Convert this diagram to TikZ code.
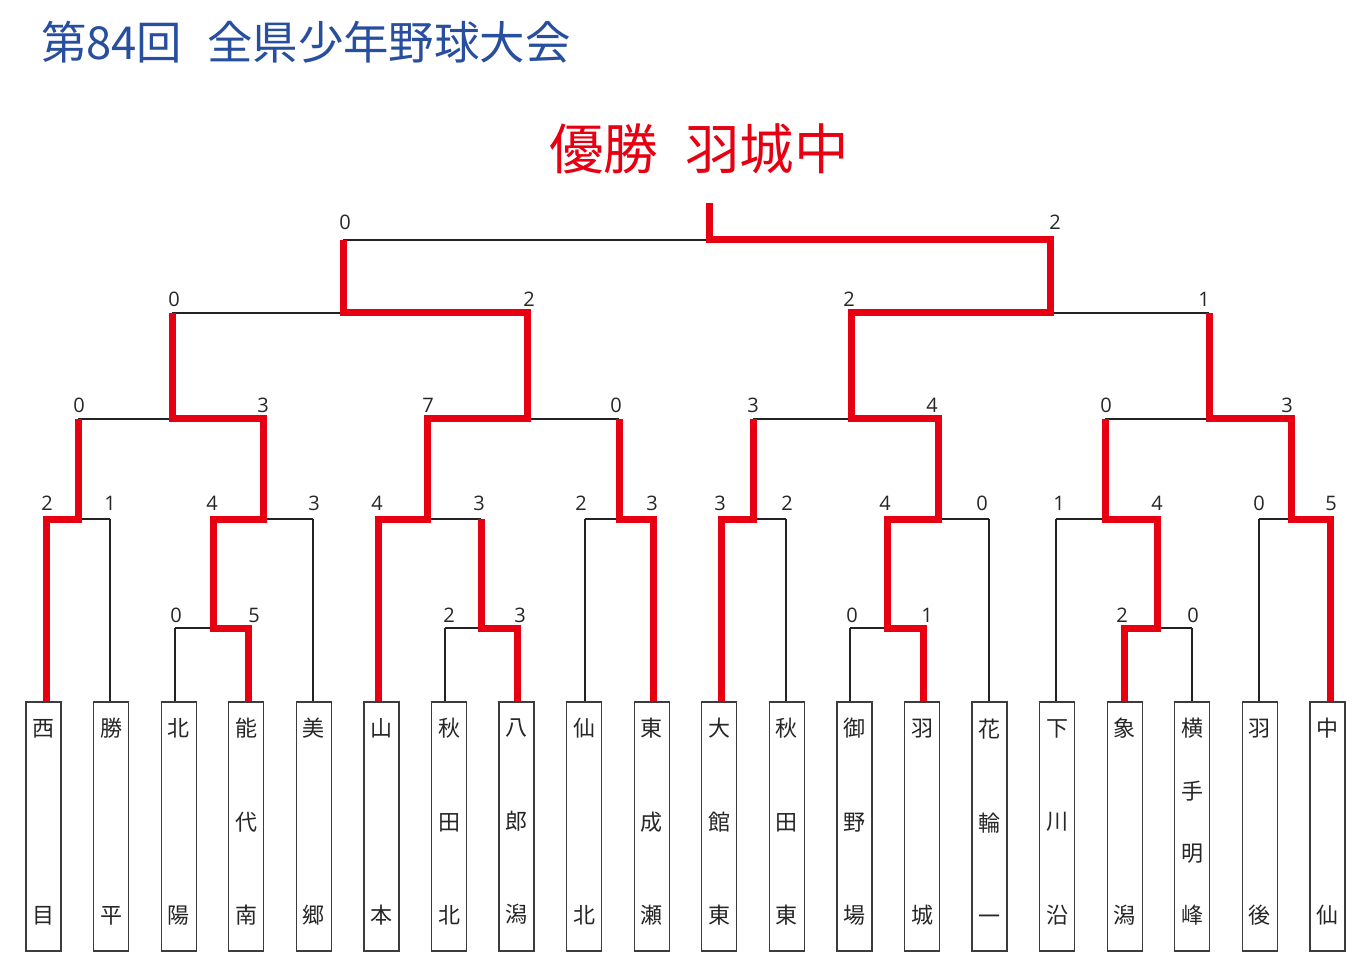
\documentclass[tikz,border=0pt]{standalone}
\usepackage{fontspec}
\newfontfamily\cjk{Noto Sans CJK JP}
\newfontfamily\numfont{Open Sans}
\definecolor{winred}{RGB}{230,0,18}
\definecolor{titleblue}{RGB}{40,78,158}
\definecolor{linegray}{RGB}{35,35,35}
\definecolor{boxgray}{RGB}{60,60,60}
\begin{document}
\begin{tikzpicture}[x=1pt,y=-1pt,
  thinline/.style={draw=linegray, line width=1.2pt},
  redline/.style={draw=winred, line width=7pt, line join=miter},
  teambox/.style={draw=boxgray, fill=white, line width=1.3pt, minimum width=35pt, minimum height=249pt, inner sep=0pt},
  namebase/.style={inner sep=0pt, align=center, text=black!85},
  nametwo/.style={namebase, font=\cjk\fontsize{22}{187}\selectfont},
  namethree/.style={namebase, font=\cjk\fontsize{22}{93.5}\selectfont},
  namefour/.style={namebase, font=\cjk\fontsize{22}{62.3}\selectfont},
  score/.style={font=\numfont\fontsize{20}{24}\selectfont, text=black!85, inner sep=0pt},
  ]
\useasboundingbox (0,0) rectangle (1366,965);
\fill[white] (0,0) rectangle (1366,965);

% titles
\node[anchor=west, inner sep=0pt, text=titleblue, font=\cjk\fontsize{45.4}{54}\selectfont] (title) at (41,42) {第84回\hspace{0.55em}全県少年野球大会};
\node[anchor=west, inner sep=0pt, text=winred, font=\cjk\fontsize{54.5}{60}\selectfont] (champ) at (549,148.5) {優勝\hspace{0.5em}羽城中};

% team attach points
\coordinate (t0) at (46,702);   \coordinate (t1) at (110,702);
\coordinate (t2) at (175,702);  \coordinate (t3) at (248,702);
\coordinate (t4) at (313,702);  \coordinate (t5) at (378,702);
\coordinate (t6) at (445,702);  \coordinate (t7) at (517,702);
\coordinate (t8) at (585,702);  \coordinate (t9) at (653,702);
\coordinate (t10) at (721,702); \coordinate (t11) at (786,702);
\coordinate (t12) at (850,702); \coordinate (t13) at (923,702);
\coordinate (t14) at (989,702); \coordinate (t15) at (1056,702);
\coordinate (t16) at (1124,702); \coordinate (t17) at (1192,702);
\coordinate (t18) at (1259,702); \coordinate (t19) at (1330,702);

% match points: left, right, middle (up)
\foreach \m/\l/\r/\u/\y in {a1/175/248/213/628, a2/445/517/481/628, a3/850/923/887/628, a4/1124/1192/1157/628,
  b1/46/110/78/519, b2/213/313/263/519, b3/378/481/427/519, b4/585/653/619/519,
  b5/721/786/753/519, b6/887/989/938/519, b7/1056/1157/1105/519, b8/1259/1330/1291/519,
  c1/78/263/172/419, c2/427/619/527/419, c3/753/938/851/419, c4/1105/1291/1209/419,
  d1/172/527/343/313, d2/851/1209/1050/313, f/343/1050/709/240}{
  \coordinate (\m l) at (\l,\y);
  \coordinate (\m r) at (\r,\y);
  \coordinate (\m m) at (\u,\y);
}
\coordinate (top) at (709,203);

% thin lines
\foreach \m in {a1,a2,a3,a4,b1,b2,b3,b4,b5,b6,b7,b8,c1,c2,c3,c4,d1,d2,f}{
  \draw[thinline] (\m l) -- (\m r);
}
\draw[thinline] (t1) -- (b1r);
\draw[thinline] (t2) -- (a1l);
\draw[thinline] (t4) -- (b2r);
\draw[thinline] (t6) -- (a2l);
\draw[thinline] (t8) -- (b4l);
\draw[thinline] (t11) -- (b5r);
\draw[thinline] (t12) -- (a3l);
\draw[thinline] (t14) -- (b6r);
\draw[thinline] (t15) -- (b7l);
\draw[thinline] (t17) -- (a4r);
\draw[thinline] (t18) -- (b8l);

% winning paths
\draw[redline] (t0) -- (b1l) -- (b1m) -- (c1l);
\draw[redline] (t3) -- (a1r) -- (a1m) -- (b2l) -- (b2m) -- (c1r) -- (c1m) -- (d1l);
\draw[redline] (t5) -- (b3l) -- (b3m) -- (c2l) -- (c2m) -- (d1r) -- (d1m) -- (fl);
\draw[redline] (t7) -- (a2r) -- (a2m) -- (b3r);
\draw[redline] (t9) -- (b4r) -- (b4m) -- (c2r);
\draw[redline] (t10) -- (b5l) -- (b5m) -- (c3l);
\draw[redline] (t13) -- (a3r) -- (a3m) -- (b6l) -- (b6m) -- (c3r) -- (c3m) -- (d2l) -- (d2m) -- (fr) -- (fm) -- (top);
\draw[redline] (t16) -- (a4l) -- (a4m) -- (b7r) -- (b7m) -- (c4l);
\draw[redline] (t19) -- (b8r) -- (b8m) -- (c4r) -- (c4m) -- (d2r);

% team boxes and names
\foreach \i/\nm/\st in {0/{西\\目}/nametwo, 1/{勝\\平}/nametwo, 2/{北\\陽}/nametwo,
  3/{能\\代\\南}/namethree, 4/{美\\郷}/nametwo, 5/{山\\本}/nametwo,
  6/{秋\\田\\北}/namethree, 7/{八\\郎\\潟}/namethree, 8/{仙\\北}/nametwo,
  9/{東\\成\\瀬}/namethree, 10/{大\\館\\東}/namethree, 11/{秋\\田\\東}/namethree,
  12/{御\\野\\場}/namethree, 13/{羽\\城}/nametwo, 14/{花\\輪\\一}/namethree,
  15/{下\\川\\沿}/namethree, 16/{象\\潟}/nametwo, 17/{横\\手\\明\\峰}/namefour,
  18/{羽\\後}/nametwo, 19/{中\\仙}/nametwo}{
  \node[teambox] (box\i) at ({43.6+67.57*\i},826.5) {};
  \node[\st] (name\i) at ({43.6+67.57*\i},822) {\nm};
}

% scores
\foreach \n/\x/\y/\s in {
  sfl/345/222.5/0, sfr/1055/222.5/2,
  sd1l/174/299/0, sd1r/529/299/2, sd2l/849/299/2, sd2r/1204/299/1,
  sc1l/79/405.5/0, sc1r/263/405.5/3, sc2l/428/405.5/7, sc2r/616/405.5/0,
  sc3l/753/405.5/3, sc3r/932/405.5/4, sc4l/1106/405.5/0, sc4r/1287/405.5/3,
  sb1l/47/503.5/2, sb1r/110/503.5/1, sb2l/212/503.5/4, sb2r/314/503.5/3,
  sb3l/377/503.5/4, sb3r/479/503.5/3, sb4l/581/503.5/2, sb4r/652/503.5/3,
  sb5l/720/503.5/3, sb5r/787/503.5/2, sb6l/885/503.5/4, sb6r/982/503.5/0,
  sb7l/1059/503.5/1, sb7r/1157/503.5/4, sb8l/1259/503.5/0, sb8r/1331/503.5/5,
  sa1l/176/615/0, sa1r/254/615/5, sa2l/449/615/2, sa2r/520/615/3,
  sa3l/852/615/0, sa3r/927/615/1, sa4l/1122/615/2, sa4r/1193/615/0}{
  \node[score] (\n) at (\x,\y) {\s};
}
\end{tikzpicture}
\end{document}
